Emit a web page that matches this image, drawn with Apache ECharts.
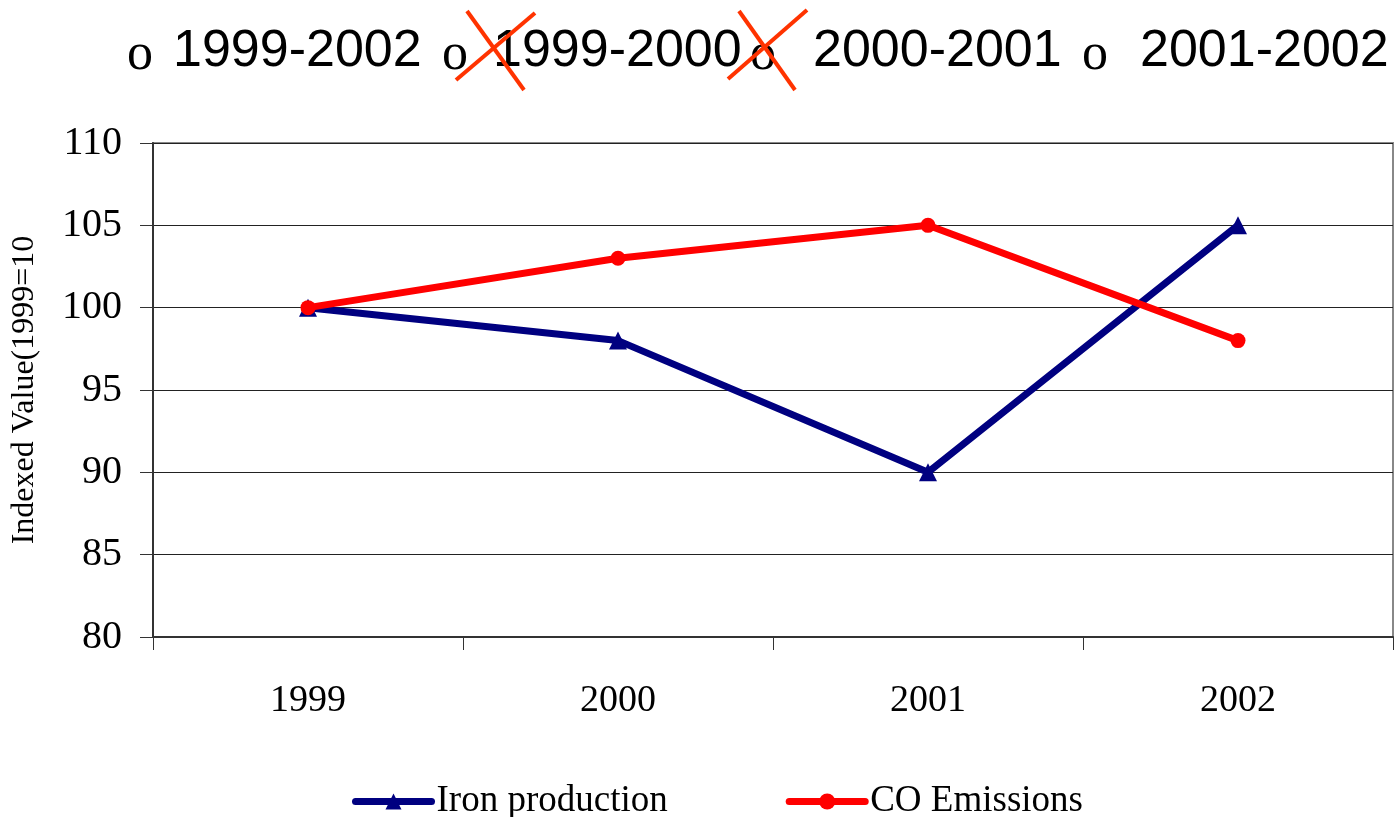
<!DOCTYPE html>
<html>
<head>
<meta charset="utf-8">
<script src="https://cdn.jsdelivr.net/npm/echarts@6/dist/echarts.min.js"></script>
<style>
  html, body { margin: 0; padding: 0; background: #fff; }
  #main { width: 1397px; height: 817px; }
</style>
</head>
<body>
<div id="main"></div>
<script>
const years = ['1999', '2000', '2001', '2002'];
const ironProduction = [100, 98, 90, 105];
const coEmissions = [100, 103, 105, 98];
const periodLabels = ['1999-2002', '1999-2000', '2000-2001', '2001-2002'];

// header row: bullet "o" + period text, two of them crossed out
const bulletX = [127, 442, 750, 1082];
const labelX = [173, 493, 813, 1140];
const crosses = [
  [[467, 11, 524, 90], [535, 13, 456, 80]],
  [[739, 11, 795, 90], [807, 10, 728, 79]]
];

let graphics = [];
periodLabels.forEach((t, i) => {
  graphics.push({
    type: 'text', left: bulletX[i], top: 29,
    style: { text: 'o', font: '52px "Liberation Serif"', fill: '#000' }
  });
  graphics.push({
    type: 'text', left: labelX[i], top: 26,
    style: { text: t, font: '52px "Liberation Sans"', fill: '#000' }
  });
});
crosses.forEach(c => {
  c.forEach(s => {
    graphics.push({
      type: 'line', z: 10,
      shape: { x1: s[0], y1: s[1], x2: s[2], y2: s[3] },
      style: { stroke: '#ff3300', lineWidth: 4 }
    });
  });
});

let chart = echarts.init(document.getElementById('main'));
chart.setOption({
  animation: false,
  backgroundColor: '#fff',
  graphic: graphics,
  grid: {
    left: 153, right: 4, top: 143, bottom: 180,
    show: true, borderColor: '#888', borderWidth: 2
  },
  legend: {
    left: 347, top: 778,
    itemWidth: 76, itemHeight: 20, itemGap: 118,
    lineStyle: { width: 7, cap: 'round' },
    textStyle: { fontFamily: 'Liberation Serif', fontSize: 37, color: '#000' },
    data: ['Iron production', 'CO Emissions']
  },
  xAxis: {
    type: 'category',
    data: years,
    boundaryGap: true,
    axisLine: { lineStyle: { color: '#333', width: 2 } },
    axisTick: { show: true, length: 13, alignWithLabel: false, lineStyle: { color: '#333' } },
    axisLabel: { margin: 45, fontFamily: 'Liberation Serif', fontSize: 38, color: '#000' },
    splitLine: { show: false }
  },
  yAxis: {
    type: 'value',
    min: 80, max: 110, interval: 5,
    name: 'Indexed Value(1999=10',
    nameLocation: 'middle',
    nameGap: 112,
    nameTextStyle: { fontFamily: 'Liberation Serif', fontSize: 32, color: '#000' },
    axisLine: { show: true, lineStyle: { color: '#333', width: 2 } },
    axisTick: { show: true, length: 13, lineStyle: { color: '#333' } },
    axisLabel: { margin: 31, fontFamily: 'Liberation Serif', fontSize: 40, color: '#000' },
    splitLine: { show: true, lineStyle: { color: '#222', width: 1 } }
  },
  series: [
    {
      name: 'Iron production',
      type: 'line',
      data: ironProduction,
      symbol: 'triangle',
      symbolSize: 18,
      lineStyle: { color: '#000080', width: 7 },
      itemStyle: { color: '#000080' }
    },
    {
      name: 'CO Emissions',
      type: 'line',
      data: coEmissions,
      symbol: 'circle',
      symbolSize: 15,
      lineStyle: { color: '#ff0000', width: 7 },
      itemStyle: { color: '#ff0000' }
    }
  ]
});
</script>
</body>
</html>
